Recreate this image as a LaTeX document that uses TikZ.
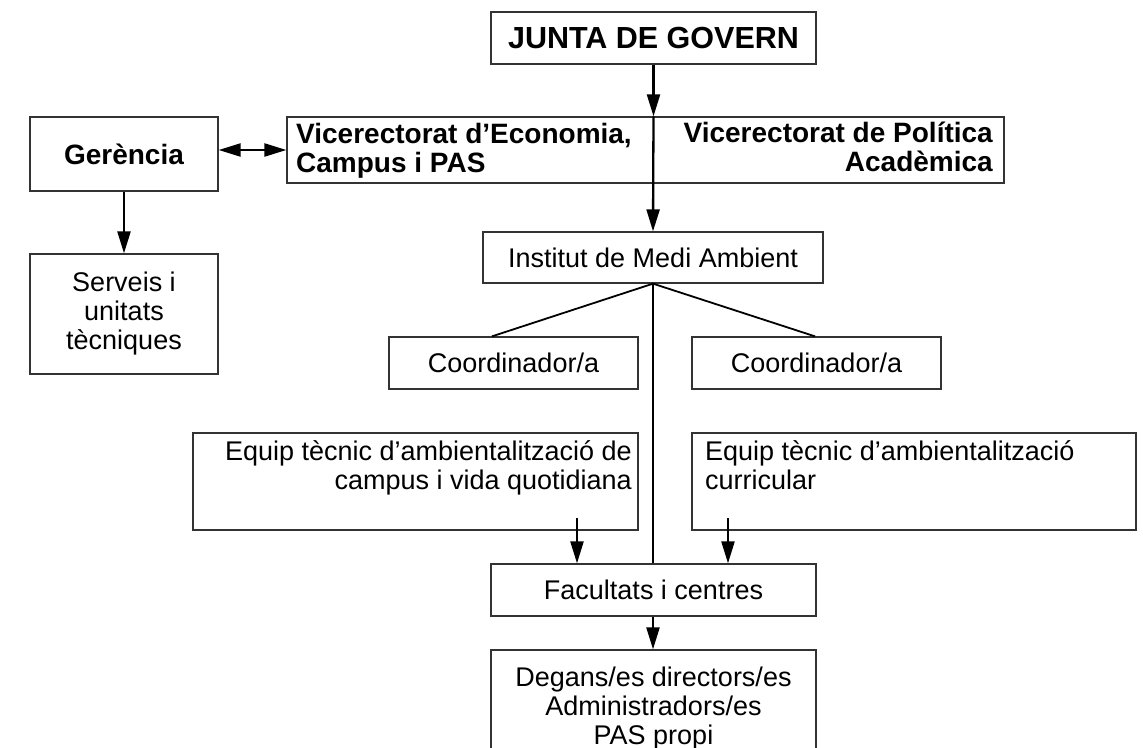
\documentclass[tikz,border=0pt]{standalone}
\usepackage{fontspec}
\setmainfont{Liberation Sans}
\usetikzlibrary{arrows.meta,positioning,calc}

\tikzstyle{orgfig}=[x=1pt,y=-1pt]
\tikzstyle{box}=[draw=black!80,line width=1.3pt,inner sep=0pt,font=\fontsize{27}{29}\selectfont]
\tikzstyle{boldbox}=[box,font=\fontsize{28}{29}\selectfont\bfseries]
\tikzstyle{txt}=[inner sep=0pt,font=\fontsize{27}{29}\selectfont]
\tikzstyle{boldtxt}=[inner sep=0pt,font=\fontsize{28}{29}\selectfont\bfseries]
\tikzstyle{link}=[line width=2.3pt,-{Triangle[length=22pt,width=13pt]}]
\tikzstyle{twolink}=[line width=2.3pt,{Triangle[length=22pt,width=13pt]}-{Triangle[length=22pt,width=13pt]}]
\tikzstyle{plain}=[line width=2.3pt]

\begin{document}
\begin{tikzpicture}[style=orgfig]
\useasboundingbox (0,0) rectangle (1143,747);
\clip (0,0) rectangle (1143,747);

% top of the chart
\node[boldbox,minimum width=325pt,minimum height=52pt,font=\fontsize{30.5}{32}\selectfont\bfseries] (junta) at (653.5,38) {JUNTA DE GOVERN};
\node[box,minimum width=717pt,minimum height=66pt] (vice) at (645.5,150) {};
\node[boldtxt,anchor=west,align=left] (viceeco) at (296,150.5) {Vicerectorat d’Economia,\\Campus i PAS};
\node[boldtxt,anchor=east,align=right] (vicepol) at (993,147) {Vicerectorat de Política\\Acadèmica};

% left branch
\node[boldbox,minimum width=188pt,minimum height=74pt] (gerencia) at (124,154) {Gerència};
\node[box,minimum width=188pt,minimum height=120pt,align=center] (serveis) at (124,314) {Serveis i\\unitats\\tècniques};

% middle
\node[box,minimum width=340pt,minimum height=51pt] (institut) at (653,257.5) {Institut de Medi Ambient};
\node[box,minimum width=249pt,minimum height=52pt] (coordL) at (513.5,363) {Coordinador/a};
\node[box,minimum width=249pt,minimum height=52pt] (coordR) at (816.5,363) {Coordinador/a};

\node[box,minimum width=445pt,minimum height=97pt] (equipL) at (415.5,481.5) {};
\node[txt,anchor=north east,align=right] (equipLtxt) at (632,440) {Equip tècnic d’ambientalització de\\campus i vida quotidiana};
\node[box,minimum width=444pt,minimum height=97pt] (equipR) at (914,481.5) {};
\node[txt,anchor=north west,align=left] (equipRtxt) at (705,440) {Equip tècnic d’ambientalització\\curricular};

% bottom
\node[box,minimum width=325pt,minimum height=52pt] (facultats) at (653.5,590) {Facultats i centres};
\node[box,minimum width=325pt,minimum height=118pt,align=center] (degans) at (653.5,709) {Degans/es directors/es\\Administradors/es\\PAS propi};

\coordinate (junctop) at (junta.south |- vice.north);
\coordinate (eqLfoot) at (577,518);
\coordinate (eqRfoot) at (728,518);

\draw[link] (junta.south) -- (junctop);
\draw[link] (junctop) -- (institut.north);
\draw[twolink] (gerencia.east |- vice.west) -- (vice.west);
\draw[link] (gerencia.south) -- (serveis.north);

\draw[line width=1.8pt] (institut.south) -- ([xshift=-21.5pt]coordL.north);
\draw[line width=1.8pt] (institut.south) -- ([xshift=-1.5pt]coordR.north);
\draw[plain] (institut.south) -- (institut.south |- facultats.north);

\draw[link] (eqLfoot) -- (eqLfoot |- facultats.north);
\draw[link] (eqRfoot) -- (eqRfoot |- facultats.north);
\draw[link] (facultats.south -| institut.south) -- (institut.south |- degans.north);
\end{tikzpicture}
\end{document}
